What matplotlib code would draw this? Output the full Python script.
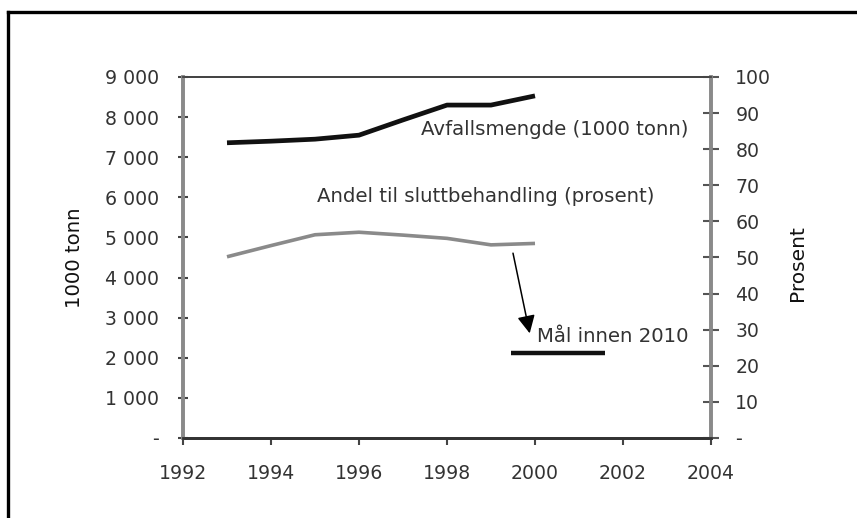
import matplotlib
matplotlib.use("Agg")
import matplotlib.pyplot as plt
from matplotlib.lines import Line2D

plt.rcParams['font.family'] = ['DejaVu Sans']

years = [1993, 1994, 1995, 1996, 1997, 1998, 1999, 2000]
avfall = [7360, 7400, 7450, 7550, 7930, 8300, 8300, 8530]
andel = [50.2, 53.3, 56.3, 57.0, 56.2, 55.3, 53.5, 53.9]
target_years = [1999.46, 2001.59]
target_values = [23.5, 23.5]

x_ticks = [1992, 1994, 1996, 1998, 2000, 2002, 2004]
left_ticks = [0, 1000, 2000, 3000, 4000, 5000, 6000, 7000, 8000, 9000]
left_labels = ["-", "1 000", "2 000", "3 000", "4 000", "5 000",
               "6 000", "7 000", "8 000", "9 000"]
right_ticks = [0, 10, 20, 30, 40, 50, 60, 70, 80, 90, 100]
right_labels = ["-", "10", "20", "30", "40", "50", "60", "70", "80", "90", "100"]

fig = plt.figure(figsize=(8.57, 5.18), dpi=100)
fig.patch.set_facecolor('white')

# outer frame (top and left edges visible)
fig.add_artist(Line2D([8 / 857, 1.0], [1 - 11.5 / 518] * 2, transform=fig.transFigure,
                      color='black', lw=2.4))
fig.add_artist(Line2D([8 / 857] * 2, [0.0, 1 - 11.5 / 518], transform=fig.transFigure,
                      color='black', lw=2.4))

ax = fig.add_axes([183 / 857, 80 / 518, (711 - 183) / 857, (438 - 77) / 518])
ax2 = ax.twinx()

ax.set_xlim(1992, 2004)
ax.set_ylim(0, 9000)
ax2.set_ylim(0, 100)

ax.plot(years, avfall, color='#111111', lw=3.4, solid_capstyle='butt', zorder=3)
ax2.plot(years, andel, color='#8a8a8a', lw=2.6, solid_capstyle='butt', zorder=3)
ax2.plot(target_years, target_values, color='#111111', lw=3.2, solid_capstyle='butt', zorder=3)

ax2.annotate("", xy=(1999.88, 29.0), xytext=(1999.5, 51.2),
             arrowprops=dict(arrowstyle='-|>', mutation_scale=27, lw=1.1,
                             color='black', shrinkA=0, shrinkB=0))

tc = '#333333'
fs_ann = 14.2
ax2.text(1997.41, 85.5, "Avfallsmengde (1000 tonn)", fontsize=fs_ann, color=tc,
         ha='left', va='center')
ax2.text(1995.05, 66.8, "Andel til sluttbehandling (prosent)", fontsize=fs_ann, color=tc,
         ha='left', va='center')
ax2.text(2000.04, 28.2, "Mål innen 2010", fontsize=fs_ann, color=tc,
         ha='left', va='center')

ax.set_xticks(x_ticks)
ax.set_xticklabels([str(v) for v in x_ticks])
ax.set_yticks(left_ticks)
ax.set_yticklabels(left_labels)
ax2.set_yticks(right_ticks)
ax2.set_yticklabels(right_labels)

fs_tick = 13.6
ax.tick_params(axis='x', direction='out', length=5, width=1.5, color='#444444',
               labelsize=fs_tick, labelcolor=tc, pad=14)
ax.tick_params(axis='y', direction='inout', length=7, width=1.5, color='#444444',
               labelsize=fs_tick, labelcolor=tc, pad=14)
ax2.tick_params(axis='y', direction='inout', length=11, width=1.5, color='#555555',
                labelsize=fs_tick, labelcolor=tc, pad=12)

for a in (ax, ax2):
    a.spines['left'].set_color('#8a8a8a')
    a.spines['left'].set_linewidth(2.6)
    a.spines['right'].set_color('#8a8a8a')
    a.spines['right'].set_linewidth(2.6)
    a.spines['bottom'].set_color('#333333')
    a.spines['bottom'].set_linewidth(2.0)
    a.spines['top'].set_color('#444444')
    a.spines['top'].set_linewidth(1.3)

ax.set_ylabel("1000 tonn", fontsize=14.2, color='#111111', labelpad=15)
ax2.set_ylabel("Prosent", fontsize=14.5, color='#111111', labelpad=11, rotation=90)
ax2.yaxis.set_label_coords(1.146, 0.485)

fig.savefig("out.png", dpi=100, facecolor='white')
